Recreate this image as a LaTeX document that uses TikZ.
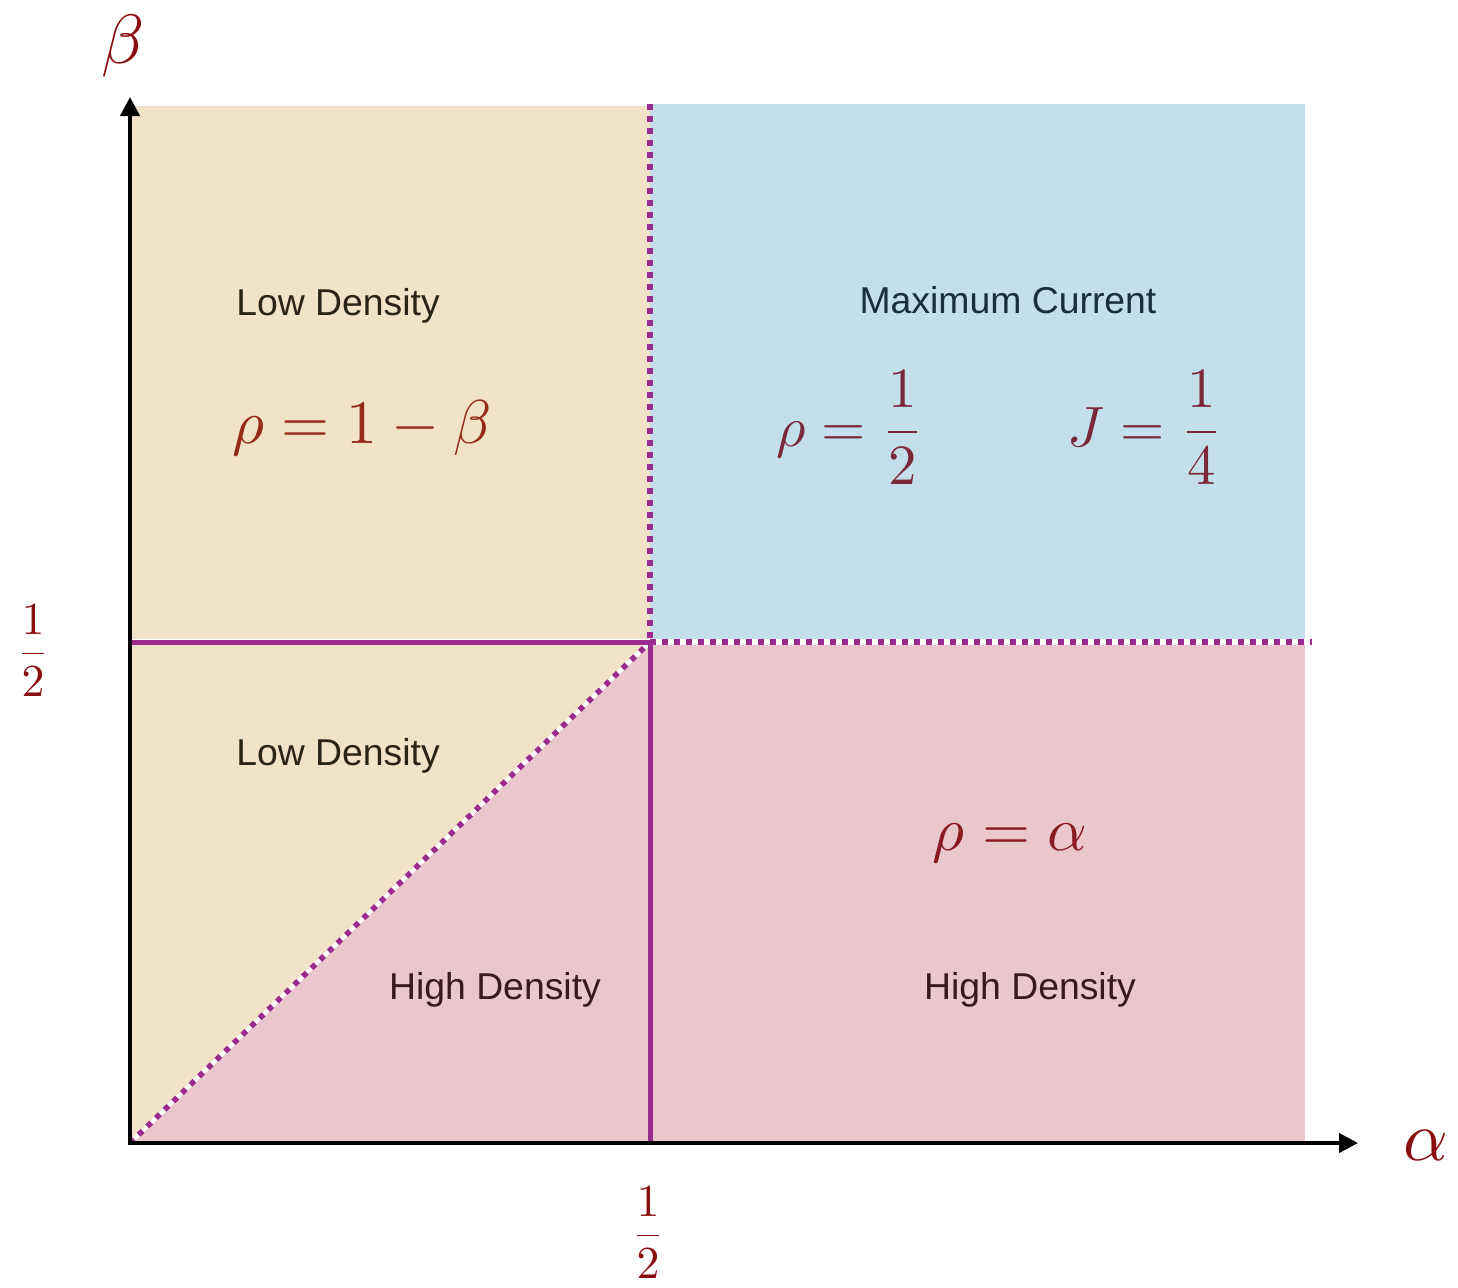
\documentclass[tikz,border=0pt]{standalone}
\usepackage{amsmath}
\usepackage{fontspec}
\setmainfont{Liberation Sans}
\usetikzlibrary{arrows.meta}
\definecolor{tanc}{HTML}{F1E2C8}
\definecolor{bluec}{HTML}{C3DFEC}
\definecolor{pinkc}{HTML}{EAC7CD}
\definecolor{purp}{HTML}{9A2A8E}
\definecolor{lbl}{HTML}{8B0E0E}
\definecolor{mtan}{HTML}{962A1A}
\definecolor{mblue}{HTML}{7B2838}
\definecolor{mpink}{HTML}{8A1A22}
\definecolor{ttan}{HTML}{2B2416}
\definecolor{tblue}{HTML}{17303C}
\definecolor{tpink}{HTML}{3A1820}
\tikzset{
  axisline/.style={line width=4bp, black, -{Triangle[length=19bp,width=19bp]}},
  solidline/.style={line width=5bp, purp},
  dotline/.style={line width=5.5bp, purp, dash pattern=on 5.5bp off 6.5bp},
  whiteline/.style={line width=4bp, white},
  regiontext/.style={inner sep=0pt, anchor=base, font=\fontsize{37.5}{44}\selectfont},
  mathtext/.style={inner sep=0pt, anchor=base, scale=6.2},
  axislabel/.style={inner sep=0pt, anchor=base, text=lbl, scale=7},
  fraclabel/.style={inner sep=0pt, anchor=base, text=lbl, scale=4.6},
}
\begin{document}
\begin{tikzpicture}[x=1bp,y=-1bp]
\useasboundingbox (0,0) rectangle (1458,1287);
% key points
\coordinate (O) at (130,1143);
\coordinate (A) at (650,1143);
\coordinate (B) at (130,642);
\coordinate (C) at (650,642);
\coordinate (Ytop) at (130,97);
\coordinate (Xend) at (1358,1143);
\coordinate (Ystart) at (130,1145);
\coordinate (Xstart) at (128,1143);
\coordinate (Vtop) at (650,104);
\coordinate (Hend) at (1312,642);
% regions
\fill[tanc] (132,106) rectangle (650,639);
\fill[bluec] (650,104) rectangle (1305,639);
\fill[pinkc] (650,645) rectangle (1305,1143);
\fill[tanc] (132,645) -- (647,645) -- (132,1143) -- cycle;
\fill[pinkc] (130,1143) -- (650,645) -- (650,1143) -- cycle;
% white under-lines
\draw[whiteline] (O) -- (C);
\draw[whiteline] (C) -- (Hend);
% boundaries
\draw[solidline] (B) -- (C);
\draw[solidline] (C) -- (A);
\draw[dotline] (Vtop) -- (C);
\draw[dotline] (C) -- (Hend);
\draw[dotline] (O) -- (C);
% axes
\draw[axisline] (Ystart) -- (Ytop);
\draw[axisline] (Xstart) -- (Xend);
% axis labels
\node[axislabel] (beta) at (123,63) {$\beta$};
\node[axislabel] (alpha) at (1426,1160) {$\alpha$};
\node[fraclabel] (bhalf) at (33,665) {$\dfrac{1}{2}$};
\node[fraclabel] (ahalf) at (648,1247) {$\dfrac{1}{2}$};
% region texts
\node[regiontext, text=ttan] (ld1) at (338,315) {Low Density};
\node[regiontext, text=ttan] (ld2) at (338,765) {Low Density};
\node[regiontext, text=tblue] (mc) at (1008,313) {Maximum Current};
\node[regiontext, text=tpink] (hd1) at (495,999) {High Density};
\node[regiontext, text=tpink] (hd2) at (1030,999) {High Density};
% formulas
\node[mathtext, text=mblue, scale=0.92] (f2) at (850,446) {$\rho=\dfrac{1}{2}$};
\node[mathtext, text=mblue, scale=0.92] (f3) at (1145,446) {$J=\dfrac{1}{4}$};
\node[mathtext, text=mtan] (f1) at (362,443) {$\rho=1-\beta$};
\node[mathtext, text=mpink] (f4) at (1010,850) {$\rho=\alpha$};
\end{tikzpicture}
\end{document}
